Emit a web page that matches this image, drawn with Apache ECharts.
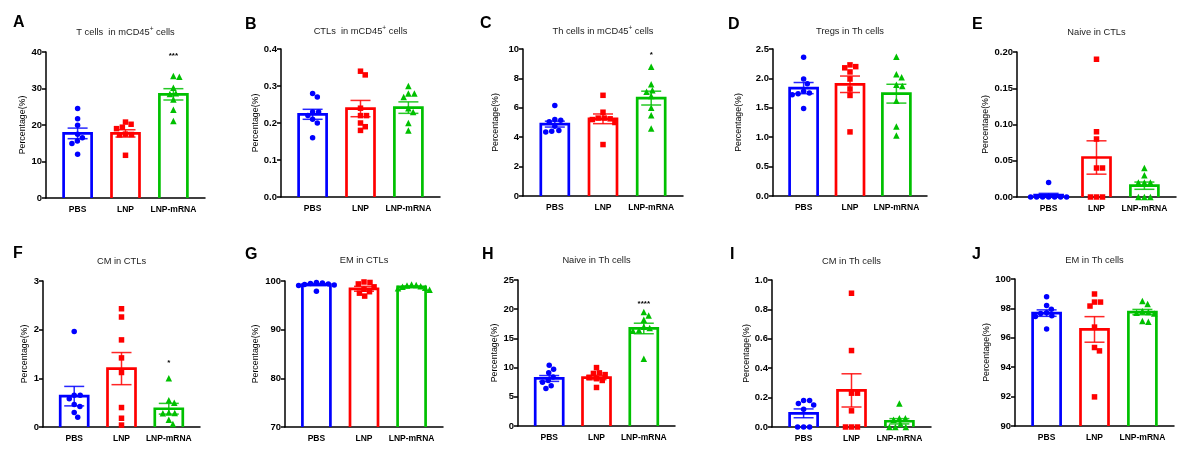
<!DOCTYPE html>
<html><head><meta charset="utf-8">
<script src="https://cdn.jsdelivr.net/npm/echarts@6/dist/echarts.min.js"></script>
<style>html,body{margin:0;padding:0;background:#fff}#c{width:1186px;height:449px}</style>
</head><body><div id="c"></div><script>
// ---------- DATA ----------
const groups = ['PBS', 'LNP', 'LNP-mRNA'];
const panelLetters = ['A','B','C','D','E','F','G','H','I','J'];
const panelTitles = [
  'T cells  in mCD45{sup|+} cells', 'CTLs  in mCD45{sup|+} cells', 'Th cells in mCD45{sup|+} cells',
  'Tregs in Th cells', 'Naive in CTLs', 'CM in CTLs', 'EM in CTLs',
  'Naive in Th cells', 'CM in Th cells', 'EM in Th cells'
];
const yMin = [0, 0, 0, 0, 0, 0, 70, 0, 0, 90];
const yMax = [40, 0.4, 10, 2.5, 0.2, 3, 100, 25, 1, 100];
const yStep = [10, 0.1, 2, 0.5, 0.05, 1, 10, 5, 0.2, 2];
const yDecimals = [0, 1, 0, 1, 2, 0, 0, 0, 1, 0];
const yName = 'Percentage(%)';

const barMeans = [
  [17.7, 17.7, 28.4], [0.2235, 0.239, 0.2416], [4.89, 5.25, 6.66], [1.835, 1.9, 1.74],
  [0.0025, 0.0545, 0.0156], [0.634, 1.2, 0.375], [99.25, 98.4, 98.8], [8.14, 8.3, 16.7],
  [0.093, 0.249, 0.039], [97.68, 96.57, 97.75]
];
const barSems = [
  [1.45, 1.0, 1.55], [0.0135, 0.022, 0.0155], [0.2, 0.33, 0.47], [0.095, 0.14, 0.16],
  [0.0025, 0.023, 0.005], [0.2, 0.33, 0.11], [0.22, 0.5, 0.15], [0.5, 0.37, 0.9],
  [0.03, 0.113, 0.018], [0.22, 0.87, 0.18]
];
const pbsPoints = [
  [24.5, 21.7, 19.9, 17.5, 16.5, 15.6, 14.9, 12.0],
  [0.28, 0.27, 0.23, 0.23, 0.22, 0.21, 0.20, 0.16],
  [6.15, 5.2, 5.15, 5.05, 4.75, 4.45, 4.4, 4.35],
  [2.36, 1.99, 1.91, 1.78, 1.75, 1.74, 1.72, 1.49],
  [0.02, 0, 0, 0, 0, 0, 0, 0],
  [1.96, 0.65, 0.65, 0.58, 0.46, 0.42, 0.30, 0.20],
  [99.7, 99.6, 99.5, 99.4, 99.3, 99.2, 99.1, 97.9],
  [10.4, 9.7, 9.1, 8.4, 7.8, 7.5, 6.9, 6.4],
  [0.18, 0.18, 0.16, 0.15, 0.12, 0, 0, 0],
  [98.8, 98.2, 97.95, 97.7, 97.65, 97.5, 97.45, 96.6]
];
const lnpPoints = [
  [20.8, 20.2, 19.4, 19.0, 17.5, 17.4, 17.3, 11.7],
  [0.34, 0.33, 0.24, 0.22, 0.22, 0.20, 0.19, 0.18],
  [6.85, 5.7, 5.3, 5.3, 5.25, 5.2, 5.0, 3.5],
  [2.23, 2.2, 2.18, 2.11, 1.99, 1.82, 1.71, 1.09],
  [0.19, 0.09, 0.08, 0.04, 0.04, 0, 0, 0],
  [2.43, 2.26, 1.79, 1.42, 1.12, 0.40, 0.18, 0.04],
  [99.8, 99.7, 99.4, 98.8, 98.3, 97.8, 97.5, 96.9],
  [10.0, 9.1, 9.0, 8.8, 8.3, 8.1, 7.8, 6.6],
  [0.91, 0.52, 0.23, 0.23, 0.11, 0, 0, 0],
  [98.98, 98.43, 98.43, 98.16, 96.73, 95.34, 95.11, 91.98]
];
const mrnaPoints = [
  [33.4, 33.2, 30.2, 28.7, 28.5, 27.0, 24.2, 21.1],
  [0.30, 0.28, 0.28, 0.27, 0.24, 0.23, 0.20, 0.18],
  [8.8, 7.6, 7.2, 7.1, 6.8, 6.0, 5.5, 4.6],
  [2.37, 2.07, 2.02, 1.89, 1.87, 1.62, 1.18, 1.03],
  [0.04, 0.03, 0.02, 0.02, 0.02, 0, 0, 0],
  [1.0, 0.55, 0.5, 0.3, 0.29, 0.28, 0.15, 0.06],
  [99.3, 99.2, 99.1, 98.9, 98.8, 98.6, 98.5, 98.2],
  [19.5, 18.9, 18.2, 17.0, 16.8, 16.4, 16.3, 11.5],
  [0.16, 0.06, 0.06, 0.05, 0.02, 0, 0, 0],
  [98.5, 98.3, 97.8, 97.75, 97.7, 97.65, 97.15, 97.1]
];
const sigText = ['***', '', '*', '', '', '*', '', '****', '', ''];
const sigValue = [39, null, 9.6, null, null, 1.32, null, 20.9, null, null];

// ---------- LAYOUT / STYLE ----------
const gridBox = [ // [left, right, top, bottom] in px
  [46, 205, 52, 198], [281, 440, 49, 197], [523, 683, 49, 196], [773, 927, 49, 196], [1017, 1176, 52, 197],
  [43, 200, 281, 427], [285, 443, 281, 427], [518, 675, 280, 426], [772, 931, 280, 427], [1015, 1174, 279, 426]
];
const nameGaps = [18, 21, 23, 30, 27, 14, 25, 19, 21, 24];
const letterPos = [[13, 15], [245, 17], [480, 16], [728, 17], [972, 17], [13, 246], [245, 247], [482, 247], [730, 247], [972, 247]];
const titleTop = [26, 25, 25, 25, 26, 255, 254, 254, 255, 254];
const colors = ['#0000ff', '#ff0000', '#00c000'];
const symbols = ['circle', 'rect', 'triangle'];
const symSizes = [5.5, 5.5, 6.5];
const xMin = -0.66, xMax = 2.66;
const FONT = '"Liberation Sans", Arial, sans-serif';

function swarm(vals, p) {
  const [L, R, T, B] = gridBox[p];
  const H = B - T, W = (R - L) / (xMax - xMin);
  const d = 6, maxSpread = 18;
  const order = vals.map((v, i) => i).sort((a, b) => vals[b] - vals[a]);
  const placed = [], offPx = new Array(vals.length);
  for (const i of order) {
    const y = (vals[i] - yMin[p]) / (yMax[p] - yMin[p]) * H;
    const cands = [0];
    for (const q of placed) {
      const dy = y - q.y;
      if (Math.abs(dy) < d) { const dx = Math.sqrt(d * d - dy * dy); cands.push(q.x + dx, q.x - dx); }
    }
    let best = null;
    for (const c of cands) {
      if (placed.every(q => (c - q.x) ** 2 + (y - q.y) ** 2 >= d * d - 1e-6)) {
        if (best === null || Math.abs(c) < Math.abs(best) - 1e-9) best = c;
      }
    }
    placed.push({ x: best, y });
    offPx[i] = best;
  }
  const widest = Math.max(...offPx.map(Math.abs));
  const k = widest > maxSpread ? maxSpread / widest : 1;
  return offPx.map(o => o * k / W);
}

const grids = [], xAxes = [], yAxes = [], series = [], titles = [];
const pointSets = [pbsPoints, lnpPoints, mrnaPoints];

for (let p = 0; p < 10; p++) {
  const [L, R, T, B] = gridBox[p];
  grids.push({ left: L, top: T, width: R - L, height: B - T, containLabel: false, outerBoundsMode: 'none' });
  xAxes.push({
    type: 'value', gridIndex: p, min: xMin, max: xMax,
    axisLine: { show: true, onZero: false, lineStyle: { color: '#000', width: 1.5 } },
    axisTick: { show: false }, splitLine: { show: false },
    axisLabel: {
      customValues: [0, 1, 2], formatter: v => groups[Math.round(v)] || '',
      color: '#000', fontWeight: 'bold', fontSize: 8.5, fontFamily: FONT, margin: 7
    }
  });
  yAxes.push({
    type: 'value', gridIndex: p, min: yMin[p], max: yMax[p], interval: yStep[p],
    axisLine: { show: true, onZero: false, lineStyle: { color: '#000', width: 1.5 } },
    axisTick: { show: true, inside: false, length: 4, lineStyle: { color: '#000', width: 1.5 } },
    splitLine: { show: false },
    axisLabel: { formatter: v => v.toFixed(yDecimals[p]), color: '#000', fontWeight: 'bold', fontSize: 9.5, fontFamily: FONT, margin: 4 },
    name: yName, nameLocation: 'middle', nameGap: nameGaps[p],
    nameTextStyle: { color: '#000', fontSize: 8.8, fontFamily: FONT }
  });
  titles.push({ text: panelLetters[p], left: letterPos[p][0], top: letterPos[p][1], padding: 0,
    textStyle: { fontSize: 16, fontWeight: 'bold', color: '#000', fontFamily: FONT } });
  titles.push({ text: panelTitles[p], left: (L + R) / 2, top: titleTop[p], textAlign: 'center', padding: 0,
    textStyle: { fontSize: 9.3, fontWeight: 'normal', color: '#222', fontFamily: FONT, lineHeight: 12,
      rich: { sup: { fontSize: 6.5, verticalAlign: 'top', lineHeight: 12, color: '#222', fontFamily: FONT, padding: [0, 0, 4, 0] } } } });

  // bars (hollow, open at bottom)
  series.push({
    type: 'custom', xAxisIndex: p, yAxisIndex: p, z: 2,
    data: barMeans[p].map((m, i) => [i, m]),
    renderItem: (params, api) => {
      const i = params.dataIndex;
      const top = api.coord([api.value(0), api.value(1)]);
      const base = api.coord([api.value(0), yMin[p]]);
      const w = 28;
      return { type: 'polyline', shape: { points: [[top[0] - w / 2, base[1]], [top[0] - w / 2, top[1]], [top[0] + w / 2, top[1]], [top[0] + w / 2, base[1]]] },
        style: { stroke: colors[i], lineWidth: 2.7, fill: null } };
    }
  });
  // points
  for (let g = 0; g < 3; g++) {
    const vals = pointSets[g][p];
    const off = swarm(vals, p);
    series.push({
      type: 'scatter', xAxisIndex: p, yAxisIndex: p, z: 3,
      symbol: symbols[g], symbolSize: symSizes[g],
      itemStyle: { color: colors[g], opacity: 1 },
      data: vals.map((v, k) => [g + off[k], v])
    });
  }
  // error bars (mean ± SEM)
  series.push({
    type: 'custom', xAxisIndex: p, yAxisIndex: p, z: 4,
    data: barMeans[p].map((m, i) => [i, m, barSems[p][i]]),
    renderItem: (params, api) => {
      const i = params.dataIndex;
      const x = api.value(0), m = api.value(1), s = api.value(2);
      const c = api.coord([x, m]);
      const hi = api.coord([x, m + s]);
      const lo = api.coord([x, Math.max(yMin[p], m - s)]);
      const hw = 10;
      const st = { stroke: colors[i], lineWidth: 1.5, fill: null, opacity: 0.85 };
      return { type: 'group', children: [
        { type: 'line', shape: { x1: c[0], y1: hi[1], x2: c[0], y2: lo[1] }, style: st },
        { type: 'line', shape: { x1: c[0] - hw, y1: hi[1], x2: c[0] + hw, y2: hi[1] }, style: st },
        { type: 'line', shape: { x1: c[0] - hw, y1: lo[1], x2: c[0] + hw, y2: lo[1] }, style: st }
      ] };
    }
  });
  // significance marks
  if (sigText[p]) {
    series.push({
      type: 'custom', xAxisIndex: p, yAxisIndex: p, z: 5,
      data: [[2, sigValue[p]]],
      renderItem: (params, api) => {
        const c = api.coord([api.value(0), api.value(1)]);
        return { type: 'text', x: c[0], y: c[1],
          style: { text: sigText[p], fill: '#000', fontSize: 8, fontWeight: 'bold', fontFamily: FONT,
            align: 'center', verticalAlign: 'middle', textAlign: 'center', textVerticalAlign: 'middle' } };
      }
    });
  }
}

const chart = echarts.init(document.getElementById('c'), null, { renderer: 'canvas', width: 1186, height: 449 });
chart.setOption({
  animation: false,
  backgroundColor: '#fff',
  title: titles,
  grid: grids,
  xAxis: xAxes,
  yAxis: yAxes,
  series: series
});
</script></body></html>
